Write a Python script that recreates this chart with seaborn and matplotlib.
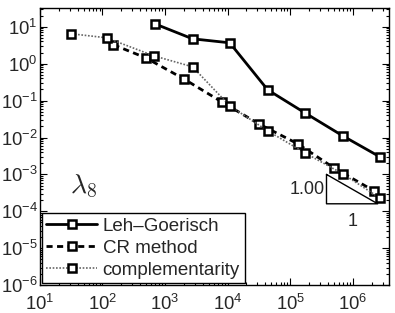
import numpy as np
import pandas as pd
import matplotlib
matplotlib.use("Agg")
import matplotlib.pyplot as plt
import seaborn as sns

# values (degrees of freedom vs. error for lambda_8)
lg_dofs = [680, 2750, 10800, 43600, 171000, 690000, 2.7e6]
lg_err = [12.1, 4.72, 3.68, 0.196, 0.0467, 0.0111, 0.0030]

cr_dofs = [150, 488, 1980, 8020, 31300, 132000, 497000, 2.17e6]
cr_err = [3.25, 1.45, 0.39, 0.0927, 0.0235, 0.00675, 0.00151, 3.6e-4]

comp_dofs = [31.9, 116, 655, 2750, 10800, 43600, 171000, 690000, 2.7e6]
comp_err = [6.46, 5.03, 1.64, 0.824, 0.0722, 0.0152, 0.00385, 0.00104, 2.3e-4]

# slope triangle (annotation)
tri_x = [3.8e5, 3.8e5, 2.5e6, 3.8e5]
tri_y = [1.0e-3, 1.6e-4, 1.6e-4, 1.0e-3]

sns.set_style("ticks")
plt.rcParams['font.family'] = ['Liberation Sans', 'DejaVu Sans']
plt.rcParams['mathtext.fontset'] = 'cm'
plt.rcParams['axes.unicode_minus'] = False

fig = plt.figure(figsize=(3.95, 3.13), dpi=100)
ax = fig.add_axes([0.101, 0.089, 0.884, 0.885])

mk = dict(marker='s', markersize=6, markerfacecolor='white',
          markeredgecolor='black', markeredgewidth=1.8)

sns.lineplot(x=lg_dofs, y=lg_err, ax=ax, color='black', linewidth=2,
             label='Leh\u2013Goerisch', estimator=None, **mk)
sns.lineplot(x=cr_dofs, y=cr_err, ax=ax, color='black', linewidth=2,
             linestyle=(0, (2.2, 1.6)), label='CR method', estimator=None, **mk)
sns.lineplot(x=comp_dofs, y=comp_err, ax=ax, color='#666666', linewidth=1.2,
             linestyle=(0, (1, 1)), label='complementarity', estimator=None, **mk)

ax.plot(tri_x, tri_y, color='black', linewidth=1)
ax.text(3.5e5, 4.0e-4, '1.00', ha='right', va='center', fontsize=13)
ax.text(1.0e6, 9.0e-5, '1', ha='center', va='top', fontsize=13)
ax.text(0.085, 0.355, r'$\lambda_8$', transform=ax.transAxes, fontsize=20,
        ha='left', va='center')

ax.set_xscale('log')
ax.set_yscale('log')
ax.set_xlim(10, 3.8e6)
ax.set_ylim(1e-6, 32)
ax.set_xticks([1e1, 1e2, 1e3, 1e4, 1e5, 1e6])
ax.set_yticks([1e-6, 1e-5, 1e-4, 1e-3, 1e-2, 1e-1, 1e0, 1e1])

ax.tick_params(which='both', direction='in', top=True, right=True,
               labelsize=13.3, color='black', width=0.8)
ax.tick_params(which='major', length=5)
ax.tick_params(which='minor', length=2.5)
ax.tick_params(axis='y', pad=1.5)
ax.tick_params(axis='x', pad=6)
for s in ax.spines.values():
    s.set_linewidth(1)
    s.set_color('black')

leg = ax.legend(loc='lower left', fontsize=13.5, frameon=True, fancybox=False,
                borderaxespad=0.1, handlelength=2.7, labelspacing=0.25,
                handletextpad=0.3, borderpad=0.25, framealpha=1)
leg.get_frame().set_edgecolor('black')
leg.get_frame().set_linewidth(1)

fig.savefig('out.png', dpi=100)
